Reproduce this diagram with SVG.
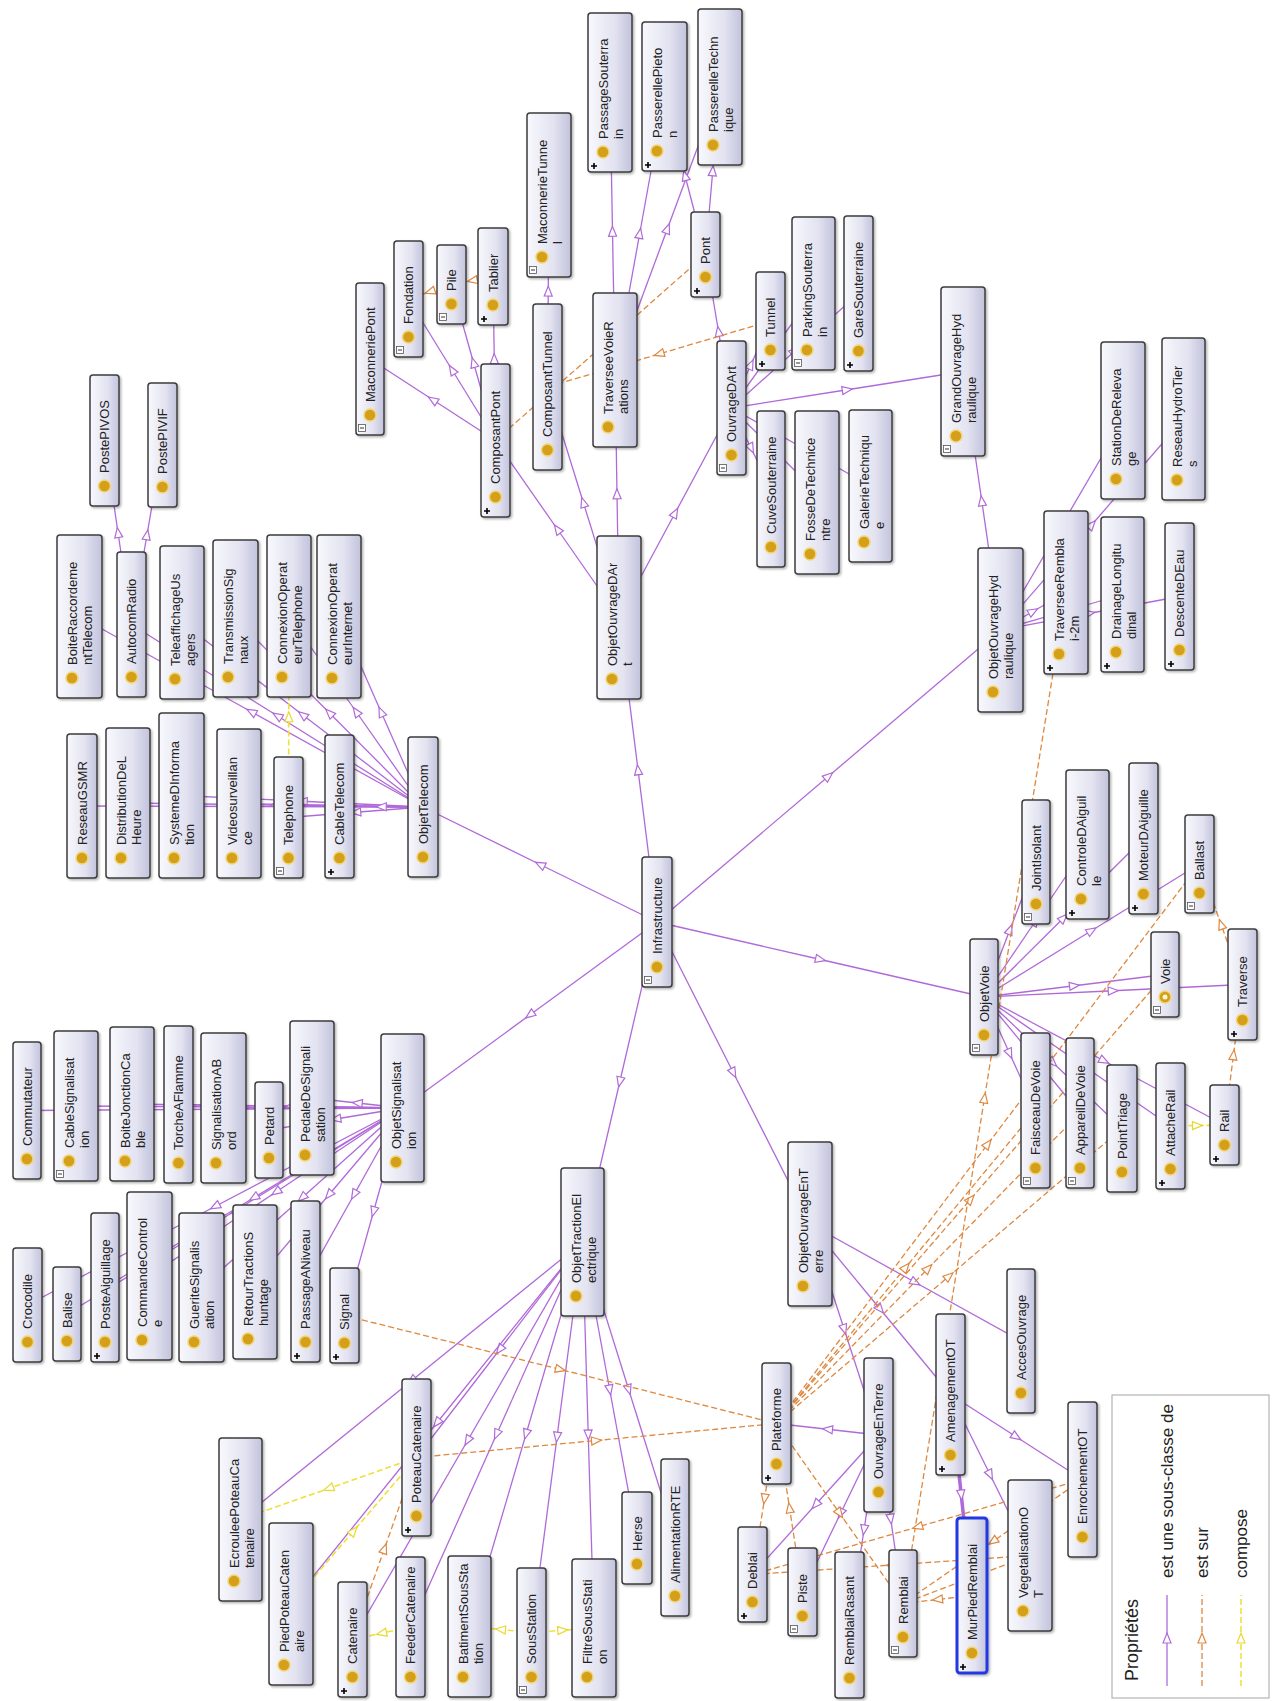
<svg xmlns="http://www.w3.org/2000/svg" xmlns:xlink="http://www.w3.org/1999/xlink" width="1273" height="1701" viewBox="0 0 1273 1701">
<style>
.b{fill:url(#gb);stroke:#3c3c3c;stroke-width:1.5;filter:url(#sh)}
.sel{stroke:#2238e0;stroke-width:3}
.c{fill:#d4a019;stroke:#f2d57a;stroke-width:1.5}
.t{font-family:"Liberation Sans",Arial,sans-serif;font-size:13px;fill:#222}
.s{fill:none;stroke:#b06ad8;stroke-width:1.3;marker-mid:url(#ms)}
.o{fill:none;stroke:#de8840;stroke-width:1.3;stroke-dasharray:6 3;marker-mid:url(#mo)}
.y{fill:none;stroke:#f0e03a;stroke-width:1.6;stroke-dasharray:6 3;marker-mid:url(#my)}
.lg{font-family:"Liberation Sans",Arial,sans-serif;font-size:17px;fill:#222}
</style>
<defs>
<linearGradient id="gb" x1="0" y1="0" x2="1" y2="0"><stop offset="0" stop-color="#f8f8fd"/><stop offset="0.6" stop-color="#e3e3f1"/><stop offset="1" stop-color="#c2c2dc"/></linearGradient>
<filter id="sh" x="-30%" y="-10%" width="160%" height="120%"><feDropShadow dx="1.5" dy="1.5" stdDeviation="1.2" flood-color="#000" flood-opacity="0.3"/></filter>
<marker id="ms" viewBox="-7 -6 14 12" refX="0" refY="0" markerWidth="14" markerHeight="12" markerUnits="userSpaceOnUse" orient="auto"><path d="M-5,-4L5,0L-5,4Z" fill="#fff" stroke="#b06ad8" stroke-width="1.2"/></marker>
<marker id="mo" viewBox="-7 -6 14 12" refX="0" refY="0" markerWidth="14" markerHeight="12" markerUnits="userSpaceOnUse" orient="auto"><path d="M-5,-4L5,0L-5,4Z" fill="#fff" stroke="#de8840" stroke-width="1.2"/></marker>
<marker id="my" viewBox="-7 -6 14 12" refX="0" refY="0" markerWidth="14" markerHeight="12" markerUnits="userSpaceOnUse" orient="auto"><path d="M-5,-4L5,0L-5,4Z" fill="#fff" stroke="#e8d830" stroke-width="1.2"/></marker>
<g id="ip"><path d="M3,-6h6M6,-9v6" stroke="#000" stroke-width="1.6"/></g>
<g id="im"><rect x="2.5" y="-10.5" width="7" height="7" fill="#fff" stroke="#555" stroke-width="0.8"/><path d="M4,-7h4" stroke="#333" stroke-width="1"/></g>
</defs>
<rect width="1273" height="1701" fill="#fff"/>
<g id="connectors">
<path class="s" d="M657,922L540,864.5L423,807"/>
<path class="s" d="M657,922L529.75,1015L402.5,1108"/>
<path class="s" d="M657,922L619.75,1082L582.5,1242"/>
<path class="s" d="M657,922L733.5,1073L810,1224"/>
<path class="s" d="M657,922L820.5,959.5L984,997"/>
<path class="s" d="M657,922L828.75,776L1000.5,630"/>
<path class="s" d="M657,922L638,769.75L619,617.5"/>
<path class="s" d="M423,807L252.5,806.5L82,806"/>
<path class="s" d="M423,807L275.5,805L128,803"/>
<path class="s" d="M423,807L302.25,801.25L181.5,795.5"/>
<path class="s" d="M423,807L331,805.25L239,803.5"/>
<path class="s" d="M423,807L355.75,812.25L288.5,817.5"/>
<path class="s" d="M423,807L381.25,806.75L339.5,806.5"/>
<path class="s" d="M423,807L251.25,711.75L79.5,616.5"/>
<path class="s" d="M423,807L277.25,715.75L131.5,624.5"/>
<path class="s" d="M423,807L302.5,714.75L182,622.5"/>
<path class="s" d="M423,807L329.25,712.75L235.5,618.5"/>
<path class="s" d="M423,807L356,711.5L289,616"/>
<path class="s" d="M423,807L381,711.75L339,616.5"/>
<path class="s" d="M131.5,624.5L118,532.5L104.5,440.5"/>
<path class="s" d="M131.5,624.5L147,534.75L162.5,445"/>
<path class="s" d="M402.5,1108L214.75,1109.25L27,1110.5"/>
<path class="s" d="M402.5,1108L239.25,1107L76,1106"/>
<path class="s" d="M402.5,1108L267.25,1106L132,1104"/>
<path class="s" d="M402.5,1108L290.5,1106.25L178.5,1104.5"/>
<path class="s" d="M402.5,1108L313,1108L223.5,1108"/>
<path class="s" d="M402.5,1108L335.75,1119L269,1130"/>
<path class="s" d="M402.5,1108L357.25,1103L312,1098"/>
<path class="s" d="M402.5,1108L215,1206.5L27.5,1305"/>
<path class="s" d="M402.5,1108L234.75,1211L67,1314"/>
<path class="s" d="M402.5,1108L253.75,1197.75L105,1287.5"/>
<path class="s" d="M402.5,1108L276,1192L149.5,1276"/>
<path class="s" d="M402.5,1108L302,1197.75L201.5,1287.5"/>
<path class="s" d="M402.5,1108L328.75,1195L255,1282"/>
<path class="s" d="M402.5,1108L354,1194.75L305.5,1281.5"/>
<path class="s" d="M402.5,1108L373.5,1211.75L344.5,1315.5"/>
<path class="s" d="M582.5,1242L499.5,1349.75L416.5,1457.5"/>
<path class="s" d="M582.5,1242L411.5,1380.75L240.5,1519.5"/>
<path class="s" d="M582.5,1242L436.75,1423L291,1604"/>
<path class="s" d="M582.5,1242L467.5,1440.75L352.5,1639.5"/>
<path class="s" d="M582.5,1242L496.5,1434.5L410.5,1627"/>
<path class="s" d="M582.5,1242L526,1434.25L469.5,1626.5"/>
<path class="s" d="M582.5,1242L557,1437.25L531.5,1632.5"/>
<path class="s" d="M582.5,1242L588.25,1435L594,1628"/>
<path class="s" d="M582.5,1242L609.75,1390L637,1538"/>
<path class="s" d="M582.5,1242L628.75,1389.75L675,1537.5"/>
<path class="s" d="M810,1224L844.25,1329.5L878.5,1435"/>
<path class="s" d="M810,1224L880.25,1309.25L950.5,1394.5"/>
<path class="s" d="M810,1224L915.5,1282.5L1021,1341"/>
<path class="s" d="M878.5,1435L827.5,1429.25L776.5,1423.5"/>
<path class="s" d="M878.5,1435L815.5,1504.75L752.5,1574.5"/>
<path class="s" d="M878.5,1435L840.5,1513.5L802.5,1592"/>
<path class="s" d="M878.5,1435L890.75,1519.25L903,1603.5"/>
<path class="s" d="M878.5,1435L864,1530L849.5,1625"/>
<path class="s" d="M950.5,1394.5L961.25,1495L972,1595.5" style="stroke-width:3.5"/>
<path class="s" d="M950.5,1394.5L990.25,1475L1030,1555.5"/>
<path class="s" d="M950.5,1394.5L1016.5,1437L1082.5,1479.5"/>
<path class="s" d="M984,997L1010,929.5L1036,862"/>
<path class="s" d="M984,997L1035.75,920.75L1087.5,844.5"/>
<path class="s" d="M984,997L1063.75,917.75L1143.5,838.5"/>
<path class="s" d="M984,997L1091.75,930.5L1199.5,864"/>
<path class="s" d="M984,997L1074.5,985.75L1165,974.5"/>
<path class="s" d="M984,997L1113.25,990.75L1242.5,984.5"/>
<path class="s" d="M984,997L1009.75,1053.75L1035.5,1110.5"/>
<path class="s" d="M984,997L1032,1055L1080,1113"/>
<path class="s" d="M984,997L1053,1062.75L1122,1128.5"/>
<path class="s" d="M984,997L1077.25,1061.5L1170.5,1126"/>
<path class="s" d="M984,997L1104.25,1061L1224.5,1125"/>
<path class="s" d="M1000.5,630L981.75,500.75L963,371.5"/>
<path class="s" d="M1000.5,630L1033.25,611.25L1066,592.5"/>
<path class="s" d="M1000.5,630L1061.75,525.25L1123,420.5"/>
<path class="s" d="M1000.5,630L1092,524.5L1183.5,419"/>
<path class="s" d="M1000.5,630L1061.5,612.25L1122.5,594.5"/>
<path class="s" d="M1000.5,630L1090,613.25L1179.5,596.5"/>
<path class="s" d="M619,617.5L557.25,529L495.5,440.5"/>
<path class="s" d="M619,617.5L583.25,502.25L547.5,387"/>
<path class="s" d="M619,617.5L617,493.75L615,370"/>
<path class="s" d="M619,617.5L675.25,512.75L731.5,408"/>
<path class="s" d="M495.5,440.5L432.75,399.75L370,359"/>
<path class="s" d="M495.5,440.5L452,369.75L408.5,299"/>
<path class="s" d="M495.5,440.5L473.5,362.5L451.5,284.5"/>
<path class="s" d="M495.5,440.5L494.25,358.5L493,276.5"/>
<path class="s" d="M547.5,387L548.25,291L549,195"/>
<path class="s" d="M615,370L612.5,231.25L610,92.5"/>
<path class="s" d="M615,370L639.75,233.25L664.5,96.5"/>
<path class="s" d="M615,370L667.5,228.5L720,87"/>
<path class="s" d="M705.5,254.5L685,175.5L664.5,96.5"/>
<path class="s" d="M705.5,254.5L712.75,170.75L720,87"/>
<path class="s" d="M731.5,408L718.5,331.25L705.5,254.5"/>
<path class="s" d="M731.5,408L751,364.5L770.5,321"/>
<path class="s" d="M731.5,408L772.5,350.75L813.5,293.5"/>
<path class="s" d="M731.5,408L795,350.75L858.5,293.5"/>
<path class="s" d="M731.5,408L847.25,389.75L963,371.5"/>
<path class="s" d="M731.5,408L751.25,448.5L771,489"/>
<path class="s" d="M731.5,408L774.25,450.25L817,492.5"/>
<path class="s" d="M731.5,408L801,447L870.5,486"/>
<path class="o" d="M1242.5,984.5L1221,924.25L1199.5,864"/>
<path class="o" d="M1224.5,1125L1233.5,1054.75L1242.5,984.5"/>
<path class="o" d="M352.5,1639.5L384.5,1548.5L416.5,1457.5"/>
<path class="o" d="M344.5,1315.5L560.5,1369.5L776.5,1423.5"/>
<path class="o" d="M416.5,1457.5L596.5,1440.5L776.5,1423.5"/>
<path class="o" d="M776.5,1423.5L764.5,1499L752.5,1574.5"/>
<path class="o" d="M802.5,1592L789.5,1507.75L776.5,1423.5"/>
<path class="o" d="M776.5,1423.5L839.75,1513.5L903,1603.5"/>
<path class="o" d="M776.5,1423.5L906,1267L1035.5,1110.5"/>
<path class="o" d="M776.5,1423.5L928.25,1268.25L1080,1113"/>
<path class="o" d="M776.5,1423.5L949.25,1276L1122,1128.5"/>
<path class="o" d="M776.5,1423.5L970.75,1199L1165,974.5"/>
<path class="o" d="M776.5,1423.5L988,1143.75L1199.5,864"/>
<path class="o" d="M903,1603.5L984.5,1098L1066,592.5"/>
<path class="o" d="M972,1595.5L937.5,1599.5L903,1603.5"/>
<path class="o" d="M1030,1555.5L966.5,1579.5L903,1603.5"/>
<path class="o" d="M1082.5,1479.5L992.75,1541.5L903,1603.5"/>
<path class="o" d="M1082.5,1479.5L917.5,1527L752.5,1574.5"/>
<path class="o" d="M1030,1555.5L891.25,1565L752.5,1574.5"/>
<path class="o" d="M493,276.5L472.25,280.5L451.5,284.5"/>
<path class="o" d="M451.5,284.5L430,291.75L408.5,299"/>
<path class="o" d="M495.5,440.5L600.5,347.5L705.5,254.5"/>
<path class="o" d="M770.5,321L659,354L547.5,387"/>
<path class="y" d="M288.5,817.5L288.75,716.75L289,616"/>
<path class="y" d="M1170.5,1126L1197.5,1125.5L1224.5,1125"/>
<path class="y" d="M416.5,1457.5L328.5,1488.5L240.5,1519.5"/>
<path class="y" d="M291,1604L353.75,1530.75L416.5,1457.5"/>
<path class="y" d="M410.5,1627L381.5,1633.25L352.5,1639.5"/>
<path class="y" d="M531.5,1632.5L500.5,1629.5L469.5,1626.5"/>
<path class="y" d="M531.5,1632.5L562.75,1630.25L594,1628"/>
</g>
<g id="nodes">
<g id="PostePIVOS" transform="translate(90,375)"><rect class="b" width="29" height="131" rx="3"/><circle class="c" cx="14.5" cy="111" r="6"/><text class="t" transform="translate(19,98) rotate(-90)">PostePIVOS</text></g>
<g id="PostePIVIF" transform="translate(148,383)"><rect class="b" width="29" height="124" rx="3"/><circle class="c" cx="14.5" cy="104" r="6"/><text class="t" transform="translate(19,91) rotate(-90)">PostePIVIF</text></g>
<g id="BoiteRaccordementTelecom" transform="translate(57,535)"><rect class="b" width="45" height="163" rx="3"/><circle class="c" cx="15" cy="143" r="6"/><text class="t" transform="translate(20,130) rotate(-90)">BoiteRaccordeme<tspan x="0" dy="15">ntTelecom</tspan></text></g>
<g id="AutocomRadio" transform="translate(117,552)"><rect class="b" width="29" height="145" rx="3"/><circle class="c" cx="14.5" cy="125" r="6"/><text class="t" transform="translate(19,112) rotate(-90)">AutocomRadio</text></g>
<g id="TeleaffichageUsagers" transform="translate(160,546)"><rect class="b" width="44" height="153" rx="3"/><circle class="c" cx="15" cy="133" r="6"/><text class="t" transform="translate(20,120) rotate(-90)">TeleaffichageUs<tspan x="0" dy="15">agers</tspan></text></g>
<g id="TransmissionSignaux" transform="translate(213,540)"><rect class="b" width="45" height="157" rx="3"/><circle class="c" cx="15" cy="137" r="6"/><text class="t" transform="translate(20,124) rotate(-90)">TransmissionSig<tspan x="0" dy="15">naux</tspan></text></g>
<g id="ConnexionOperateurTelephone" transform="translate(267,535)"><rect class="b" width="44" height="162" rx="3"/><circle class="c" cx="15" cy="142" r="6"/><text class="t" transform="translate(20,129) rotate(-90)">ConnexionOperat<tspan x="0" dy="15">eurTelephone</tspan></text></g>
<g id="ConnexionOperateurInternet" transform="translate(317,535)"><rect class="b" width="44" height="163" rx="3"/><circle class="c" cx="15" cy="143" r="6"/><text class="t" transform="translate(20,130) rotate(-90)">ConnexionOperat<tspan x="0" dy="15">eurInternet</tspan></text></g>
<g id="ReseauGSMR" transform="translate(67,734)"><rect class="b" width="30" height="144" rx="3"/><circle class="c" cx="15" cy="124" r="6"/><text class="t" transform="translate(19.5,111) rotate(-90)">ReseauGSMR</text></g>
<g id="DistributionDeLHeure" transform="translate(106,728)"><rect class="b" width="44" height="150" rx="3"/><circle class="c" cx="15" cy="130" r="6"/><text class="t" transform="translate(20,117) rotate(-90)">DistributionDeL<tspan x="0" dy="15">Heure</tspan></text></g>
<g id="SystemeDInformation" transform="translate(159,713)"><rect class="b" width="45" height="165" rx="3"/><circle class="c" cx="15" cy="145" r="6"/><text class="t" transform="translate(20,132) rotate(-90)">SystemeDInforma<tspan x="0" dy="15">tion</tspan></text></g>
<g id="Videosurveillance" transform="translate(217,729)"><rect class="b" width="44" height="149" rx="3"/><circle class="c" cx="15" cy="129" r="6"/><text class="t" transform="translate(20,116) rotate(-90)">Videosurveillan<tspan x="0" dy="15">ce</tspan></text></g>
<g id="Telephone" transform="translate(274,757)"><rect class="b" width="29" height="121" rx="3"/><circle class="c" cx="14.5" cy="101" r="6"/><text class="t" transform="translate(19,88) rotate(-90)">Telephone</text><use href="#im" y="121"/></g>
<g id="CableTelecom" transform="translate(325,735)"><rect class="b" width="29" height="143" rx="3"/><circle class="c" cx="14.5" cy="123" r="6"/><text class="t" transform="translate(19,110) rotate(-90)">CableTelecom</text><use href="#ip" y="143"/></g>
<g id="ObjetTelecom" transform="translate(408,737)"><rect class="b" width="30" height="140" rx="3"/><circle class="c" cx="15" cy="120" r="6"/><text class="t" transform="translate(19.5,107) rotate(-90)">ObjetTelecom</text></g>
<g id="Commutateur" transform="translate(13,1042)"><rect class="b" width="28" height="137" rx="3"/><circle class="c" cx="14" cy="117" r="6"/><text class="t" transform="translate(18.5,104) rotate(-90)">Commutateur</text></g>
<g id="CableSignalisation" transform="translate(54,1031)"><rect class="b" width="44" height="150" rx="3"/><circle class="c" cx="15" cy="130" r="6"/><text class="t" transform="translate(20,117) rotate(-90)">CableSignalisat<tspan x="0" dy="15">ion</tspan></text><use href="#im" y="150"/></g>
<g id="BoiteJonctionCable" transform="translate(110,1027)"><rect class="b" width="44" height="154" rx="3"/><circle class="c" cx="15" cy="134" r="6"/><text class="t" transform="translate(20,121) rotate(-90)">BoiteJonctionCa<tspan x="0" dy="15">ble</tspan></text></g>
<g id="TorcheAFlamme" transform="translate(164,1026)"><rect class="b" width="29" height="157" rx="3"/><circle class="c" cx="14.5" cy="137" r="6"/><text class="t" transform="translate(19,124) rotate(-90)">TorcheAFlamme</text></g>
<g id="SignalisationABord" transform="translate(201,1033)"><rect class="b" width="45" height="150" rx="3"/><circle class="c" cx="15" cy="130" r="6"/><text class="t" transform="translate(20,117) rotate(-90)">SignalisationAB<tspan x="0" dy="15">ord</tspan></text></g>
<g id="Petard" transform="translate(255,1082)"><rect class="b" width="28" height="96" rx="3"/><circle class="c" cx="14" cy="76" r="6"/><text class="t" transform="translate(18.5,63) rotate(-90)">Petard</text></g>
<g id="PedaleDeSignalisation" transform="translate(290,1021)"><rect class="b" width="44" height="154" rx="3"/><circle class="c" cx="15" cy="134" r="6"/><text class="t" transform="translate(20,121) rotate(-90)">PedaleDeSignali<tspan x="0" dy="15">sation</tspan></text></g>
<g id="ObjetSignalisation" transform="translate(381,1034)"><rect class="b" width="43" height="148" rx="3"/><circle class="c" cx="15" cy="128" r="6"/><text class="t" transform="translate(20,115) rotate(-90)">ObjetSignalisat<tspan x="0" dy="15">ion</tspan></text></g>
<g id="Crocodile" transform="translate(13,1248)"><rect class="b" width="29" height="114" rx="3"/><circle class="c" cx="14.5" cy="94" r="6"/><text class="t" transform="translate(19,81) rotate(-90)">Crocodile</text></g>
<g id="Balise" transform="translate(53,1267)"><rect class="b" width="28" height="94" rx="3"/><circle class="c" cx="14" cy="74" r="6"/><text class="t" transform="translate(18.5,61) rotate(-90)">Balise</text></g>
<g id="PosteAiguillage" transform="translate(91,1213)"><rect class="b" width="28" height="149" rx="3"/><circle class="c" cx="14" cy="129" r="6"/><text class="t" transform="translate(18.5,116) rotate(-90)">PosteAiguillage</text><use href="#ip" y="149"/></g>
<g id="CommandeControle" transform="translate(127,1192)"><rect class="b" width="45" height="168" rx="3"/><circle class="c" cx="15" cy="148" r="6"/><text class="t" transform="translate(20,135) rotate(-90)">CommandeControl<tspan x="0" dy="15">e</tspan></text></g>
<g id="GueriteSignalisation" transform="translate(179,1213)"><rect class="b" width="45" height="149" rx="3"/><circle class="c" cx="15" cy="129" r="6"/><text class="t" transform="translate(20,116) rotate(-90)">GueriteSignalis<tspan x="0" dy="15">ation</tspan></text></g>
<g id="RetourTractionShuntage" transform="translate(233,1205)"><rect class="b" width="44" height="154" rx="3"/><circle class="c" cx="15" cy="134" r="6"/><text class="t" transform="translate(20,121) rotate(-90)">RetourTractionS<tspan x="0" dy="15">huntage</tspan></text></g>
<g id="PassageANiveau" transform="translate(291,1201)"><rect class="b" width="29" height="161" rx="3"/><circle class="c" cx="14.5" cy="141" r="6"/><text class="t" transform="translate(19,128) rotate(-90)">PassageANiveau</text><use href="#ip" y="161"/></g>
<g id="Signal" transform="translate(330,1268)"><rect class="b" width="29" height="95" rx="3"/><circle class="c" cx="14.5" cy="75" r="6"/><text class="t" transform="translate(19,62) rotate(-90)">Signal</text><use href="#ip" y="95"/></g>
<g id="ObjetTractionElectrique" transform="translate(561,1168)"><rect class="b" width="43" height="148" rx="3"/><circle class="c" cx="15" cy="128" r="6"/><text class="t" transform="translate(20,115) rotate(-90)">ObjetTractionEl<tspan x="0" dy="15">ectrique</tspan></text></g>
<g id="PoteauCatenaire" transform="translate(402,1379)"><rect class="b" width="29" height="157" rx="3"/><circle class="c" cx="14.5" cy="137" r="6"/><text class="t" transform="translate(19,124) rotate(-90)">PoteauCatenaire</text><use href="#ip" y="157"/></g>
<g id="EcrouleePoteauCatenaire" transform="translate(219,1438)"><rect class="b" width="43" height="163" rx="3"/><circle class="c" cx="15" cy="143" r="6"/><text class="t" transform="translate(20,130) rotate(-90)">EcrouleePoteauCa<tspan x="0" dy="15">tenaire</tspan></text></g>
<g id="PiedPoteauCatenaire" transform="translate(269,1523)"><rect class="b" width="44" height="162" rx="3"/><circle class="c" cx="15" cy="142" r="6"/><text class="t" transform="translate(20,129) rotate(-90)">PiedPoteauCaten<tspan x="0" dy="15">aire</tspan></text></g>
<g id="Catenaire" transform="translate(338,1582)"><rect class="b" width="29" height="115" rx="3"/><circle class="c" cx="14.5" cy="95" r="6"/><text class="t" transform="translate(19,82) rotate(-90)">Catenaire</text><use href="#ip" y="115"/></g>
<g id="FeederCatenaire" transform="translate(396,1557)"><rect class="b" width="29" height="140" rx="3"/><circle class="c" cx="14.5" cy="120" r="6"/><text class="t" transform="translate(19,107) rotate(-90)">FeederCatenaire</text></g>
<g id="BatimentSousStation" transform="translate(448,1556)"><rect class="b" width="43" height="141" rx="3"/><circle class="c" cx="15" cy="121" r="6"/><text class="t" transform="translate(20,108) rotate(-90)">BatimentSousSta<tspan x="0" dy="15">tion</tspan></text></g>
<g id="SousStation" transform="translate(517,1568)"><rect class="b" width="29" height="129" rx="3"/><circle class="c" cx="14.5" cy="109" r="6"/><text class="t" transform="translate(19,96) rotate(-90)">SousStation</text><use href="#im" y="129"/></g>
<g id="FiltreSousStation" transform="translate(572,1559)"><rect class="b" width="44" height="138" rx="3"/><circle class="c" cx="15" cy="118" r="6"/><text class="t" transform="translate(20,105) rotate(-90)">FiltreSousStati<tspan x="0" dy="15">on</tspan></text></g>
<g id="Herse" transform="translate(622,1492)"><rect class="b" width="30" height="92" rx="3"/><circle class="c" cx="15" cy="72" r="6"/><text class="t" transform="translate(19.5,59) rotate(-90)">Herse</text></g>
<g id="AlimentationRTE" transform="translate(661,1459)"><rect class="b" width="28" height="157" rx="3"/><circle class="c" cx="14" cy="137" r="6"/><text class="t" transform="translate(18.5,124) rotate(-90)">AlimentationRTE</text></g>
<g id="ObjetOuvrageEnTerre" transform="translate(788,1142)"><rect class="b" width="44" height="164" rx="3"/><circle class="c" cx="15" cy="144" r="6"/><text class="t" transform="translate(20,131) rotate(-90)">ObjetOuvrageEnT<tspan x="0" dy="15">erre</tspan></text></g>
<g id="Plateforme" transform="translate(762,1363)"><rect class="b" width="29" height="121" rx="3"/><circle class="c" cx="14.5" cy="101" r="6"/><text class="t" transform="translate(19,88) rotate(-90)">Plateforme</text><use href="#ip" y="121"/></g>
<g id="OuvrageEnTerre" transform="translate(864,1358)"><rect class="b" width="29" height="154" rx="3"/><circle class="c" cx="14.5" cy="134" r="6"/><text class="t" transform="translate(19,121) rotate(-90)">OuvrageEnTerre</text></g>
<g id="AmenagementOT" transform="translate(936,1314)"><rect class="b" width="29" height="161" rx="3"/><circle class="c" cx="14.5" cy="141" r="6"/><text class="t" transform="translate(19,128) rotate(-90)">AmenagementOT</text><use href="#ip" y="161"/></g>
<g id="AccesOuvrage" transform="translate(1007,1269)"><rect class="b" width="28" height="144" rx="3"/><circle class="c" cx="14" cy="124" r="6"/><text class="t" transform="translate(18.5,111) rotate(-90)">AccesOuvrage</text></g>
<g id="EnrochementOT" transform="translate(1068,1402)"><rect class="b" width="29" height="155" rx="3"/><circle class="c" cx="14.5" cy="135" r="6"/><text class="t" transform="translate(19,122) rotate(-90)">EnrochementOT</text></g>
<g id="VegetalisationOT" transform="translate(1008,1480)"><rect class="b" width="44" height="151" rx="3"/><circle class="c" cx="15" cy="131" r="6"/><text class="t" transform="translate(20,118) rotate(-90)">VegetalisationO<tspan x="0" dy="15">T</tspan></text></g>
<g id="MurPiedRemblai" transform="translate(957,1518)"><rect class="b sel" width="30" height="155" rx="3"/><circle class="c" cx="15" cy="135" r="6"/><text class="t" transform="translate(19.5,122) rotate(-90)">MurPiedRemblai</text><use href="#ip" y="155"/></g>
<g id="Remblai" transform="translate(889,1550)"><rect class="b" width="28" height="107" rx="3"/><circle class="c" cx="14" cy="87" r="6"/><text class="t" transform="translate(18.5,74) rotate(-90)">Remblai</text><use href="#im" y="107"/></g>
<g id="RemblaiRasant" transform="translate(835,1552)"><rect class="b" width="29" height="146" rx="3"/><circle class="c" cx="14.5" cy="126" r="6"/><text class="t" transform="translate(19,113) rotate(-90)">RemblaiRasant</text></g>
<g id="Deblai" transform="translate(738,1527)"><rect class="b" width="29" height="95" rx="3"/><circle class="c" cx="14.5" cy="75" r="6"/><text class="t" transform="translate(19,62) rotate(-90)">Deblai</text><use href="#ip" y="95"/></g>
<g id="Piste" transform="translate(788,1548)"><rect class="b" width="29" height="88" rx="3"/><circle class="c" cx="14.5" cy="68" r="6"/><text class="t" transform="translate(19,55) rotate(-90)">Piste</text><use href="#im" y="88"/></g>
<g id="ObjetVoie" transform="translate(970,939)"><rect class="b" width="28" height="116" rx="3"/><circle class="c" cx="14" cy="96" r="6"/><text class="t" transform="translate(18.5,83) rotate(-90)">ObjetVoie</text><use href="#im" y="116"/></g>
<g id="JointIsolant" transform="translate(1022,800)"><rect class="b" width="28" height="124" rx="3"/><circle class="c" cx="14" cy="104" r="6"/><text class="t" transform="translate(18.5,91) rotate(-90)">JointIsolant</text><use href="#im" y="124"/></g>
<g id="ControleDAiguille" transform="translate(1066,770)"><rect class="b" width="43" height="149" rx="3"/><circle class="c" cx="15" cy="129" r="6"/><text class="t" transform="translate(20,116) rotate(-90)">ControleDAiguil<tspan x="0" dy="15">le</tspan></text><use href="#ip" y="149"/></g>
<g id="MoteurDAiguille" transform="translate(1129,763)"><rect class="b" width="29" height="151" rx="3"/><circle class="c" cx="14.5" cy="131" r="6"/><text class="t" transform="translate(19,118) rotate(-90)">MoteurDAiguille</text><use href="#ip" y="151"/></g>
<g id="Ballast" transform="translate(1185,815)"><rect class="b" width="29" height="98" rx="3"/><circle class="c" cx="14.5" cy="78" r="6"/><text class="t" transform="translate(19,65) rotate(-90)">Ballast</text><use href="#im" y="98"/></g>
<g id="Voie" transform="translate(1151,932)"><rect class="b" width="28" height="85" rx="3"/><circle class="c" cx="14" cy="65" r="6"/><circle cx="14" cy="65" r="2.5" fill="#fff6d0"/><text class="t" transform="translate(18.5,52) rotate(-90)">Voie</text><use href="#im" y="85"/></g>
<g id="Traverse" transform="translate(1228,929)"><rect class="b" width="29" height="111" rx="3"/><circle class="c" cx="14.5" cy="91" r="6"/><text class="t" transform="translate(19,78) rotate(-90)">Traverse</text><use href="#ip" y="111"/></g>
<g id="FaisceauDeVoie" transform="translate(1021,1033)"><rect class="b" width="29" height="155" rx="3"/><circle class="c" cx="14.5" cy="135" r="6"/><text class="t" transform="translate(19,122) rotate(-90)">FaisceauDeVoie</text><use href="#im" y="155"/></g>
<g id="AppareilDeVoie" transform="translate(1066,1038)"><rect class="b" width="28" height="150" rx="3"/><circle class="c" cx="14" cy="130" r="6"/><text class="t" transform="translate(18.5,117) rotate(-90)">AppareilDeVoie</text><use href="#im" y="150"/></g>
<g id="PointTriage" transform="translate(1107,1065)"><rect class="b" width="30" height="127" rx="3"/><circle class="c" cx="15" cy="107" r="6"/><text class="t" transform="translate(19.5,94) rotate(-90)">PointTriage</text></g>
<g id="AttacheRail" transform="translate(1156,1063)"><rect class="b" width="29" height="126" rx="3"/><circle class="c" cx="14.5" cy="106" r="6"/><text class="t" transform="translate(19,93) rotate(-90)">AttacheRail</text><use href="#ip" y="126"/></g>
<g id="Rail" transform="translate(1210,1085)"><rect class="b" width="29" height="80" rx="3"/><circle class="c" cx="14.5" cy="60" r="6"/><text class="t" transform="translate(19,47) rotate(-90)">Rail</text><use href="#ip" y="80"/></g>
<g id="ObjetOuvrageHydraulique" transform="translate(978,548)"><rect class="b" width="45" height="164" rx="3"/><circle class="c" cx="15" cy="144" r="6"/><text class="t" transform="translate(20,131) rotate(-90)">ObjetOuvrageHyd<tspan x="0" dy="15">raulique</tspan></text></g>
<g id="GrandOuvrageHydraulique" transform="translate(941,287)"><rect class="b" width="44" height="169" rx="3"/><circle class="c" cx="15" cy="149" r="6"/><text class="t" transform="translate(20,136) rotate(-90)">GrandOuvrageHyd<tspan x="0" dy="15">raulique</tspan></text><use href="#im" y="169"/></g>
<g id="TraverseeRemblai-2m" transform="translate(1044,511)"><rect class="b" width="44" height="163" rx="3"/><circle class="c" cx="15" cy="143" r="6"/><text class="t" transform="translate(20,130) rotate(-90)">TraverseeRembla<tspan x="0" dy="15">i-2m</tspan></text><use href="#ip" y="163"/></g>
<g id="StationDeRelevage" transform="translate(1101,342)"><rect class="b" width="44" height="157" rx="3"/><circle class="c" cx="15" cy="137" r="6"/><text class="t" transform="translate(20,124) rotate(-90)">StationDeReleva<tspan x="0" dy="15">ge</tspan></text></g>
<g id="ReseauHydroTiers" transform="translate(1162,338)"><rect class="b" width="43" height="162" rx="3"/><circle class="c" cx="15" cy="142" r="6"/><text class="t" transform="translate(20,129) rotate(-90)">ReseauHydroTier<tspan x="0" dy="15">s</tspan></text></g>
<g id="DrainageLongitudinal" transform="translate(1101,517)"><rect class="b" width="43" height="155" rx="3"/><circle class="c" cx="15" cy="135" r="6"/><text class="t" transform="translate(20,122) rotate(-90)">DrainageLongitu<tspan x="0" dy="15">dinal</tspan></text><use href="#ip" y="155"/></g>
<g id="DescenteDEau" transform="translate(1165,523)"><rect class="b" width="29" height="147" rx="3"/><circle class="c" cx="14.5" cy="127" r="6"/><text class="t" transform="translate(19,114) rotate(-90)">DescenteDEau</text><use href="#ip" y="147"/></g>
<g id="ObjetOuvrageDArt" transform="translate(597,536)"><rect class="b" width="44" height="163" rx="3"/><circle class="c" cx="15" cy="143" r="6"/><text class="t" transform="translate(20,130) rotate(-90)">ObjetOuvrageDAr<tspan x="0" dy="15">t</tspan></text></g>
<g id="ComposantPont" transform="translate(481,364)"><rect class="b" width="29" height="153" rx="3"/><circle class="c" cx="14.5" cy="133" r="6"/><text class="t" transform="translate(19,120) rotate(-90)">ComposantPont</text><use href="#ip" y="153"/></g>
<g id="ComposantTunnel" transform="translate(533,304)"><rect class="b" width="29" height="166" rx="3"/><circle class="c" cx="14.5" cy="146" r="6"/><text class="t" transform="translate(19,133) rotate(-90)">ComposantTunnel</text></g>
<g id="TraverseeVoieRations" transform="translate(593,293)"><rect class="b" width="44" height="154" rx="3"/><circle class="c" cx="15" cy="134" r="6"/><text class="t" transform="translate(20,121) rotate(-90)">TraverseeVoieR<tspan x="0" dy="15">ations</tspan></text></g>
<g id="OuvrageDArt" transform="translate(717,341)"><rect class="b" width="29" height="134" rx="3"/><circle class="c" cx="14.5" cy="114" r="6"/><text class="t" transform="translate(19,101) rotate(-90)">OuvrageDArt</text><use href="#im" y="134"/></g>
<g id="MaconneriePont" transform="translate(356,283)"><rect class="b" width="28" height="152" rx="3"/><circle class="c" cx="14" cy="132" r="6"/><text class="t" transform="translate(18.5,119) rotate(-90)">MaconneriePont</text><use href="#im" y="152"/></g>
<g id="Fondation" transform="translate(394,241)"><rect class="b" width="29" height="116" rx="3"/><circle class="c" cx="14.5" cy="96" r="6"/><text class="t" transform="translate(19,83) rotate(-90)">Fondation</text><use href="#im" y="116"/></g>
<g id="Pile" transform="translate(437,245)"><rect class="b" width="29" height="79" rx="3"/><circle class="c" cx="14.5" cy="59" r="6"/><text class="t" transform="translate(19,46) rotate(-90)">Pile</text><use href="#im" y="79"/></g>
<g id="Tablier" transform="translate(478,228)"><rect class="b" width="30" height="97" rx="3"/><circle class="c" cx="15" cy="77" r="6"/><text class="t" transform="translate(19.5,64) rotate(-90)">Tablier</text><use href="#ip" y="97"/></g>
<g id="MaconnerieTunnel" transform="translate(527,113)"><rect class="b" width="44" height="164" rx="3"/><circle class="c" cx="15" cy="144" r="6"/><text class="t" transform="translate(20,131) rotate(-90)">MaconnerieTunne<tspan x="0" dy="15">l</tspan></text><use href="#im" y="164"/></g>
<g id="PassageSouterrain" transform="translate(588,13)"><rect class="b" width="44" height="159" rx="3"/><circle class="c" cx="15" cy="139" r="6"/><text class="t" transform="translate(20,126) rotate(-90)">PassageSouterra<tspan x="0" dy="15">in</tspan></text><use href="#ip" y="159"/></g>
<g id="PasserellePieton" transform="translate(642,22)"><rect class="b" width="45" height="149" rx="3"/><circle class="c" cx="15" cy="129" r="6"/><text class="t" transform="translate(20,116) rotate(-90)">PasserellePieto<tspan x="0" dy="15">n</tspan></text><use href="#ip" y="149"/></g>
<g id="PasserelleTechnique" transform="translate(698,9)"><rect class="b" width="44" height="156" rx="3"/><circle class="c" cx="15" cy="136" r="6"/><text class="t" transform="translate(20,123) rotate(-90)">PasserelleTechn<tspan x="0" dy="15">ique</tspan></text></g>
<g id="Pont" transform="translate(691,212)"><rect class="b" width="29" height="85" rx="3"/><circle class="c" cx="14.5" cy="65" r="6"/><text class="t" transform="translate(19,52) rotate(-90)">Pont</text><use href="#ip" y="85"/></g>
<g id="Tunnel" transform="translate(756,272)"><rect class="b" width="29" height="98" rx="3"/><circle class="c" cx="14.5" cy="78" r="6"/><text class="t" transform="translate(19,65) rotate(-90)">Tunnel</text><use href="#ip" y="98"/></g>
<g id="ParkingSouterrain" transform="translate(792,217)"><rect class="b" width="43" height="153" rx="3"/><circle class="c" cx="15" cy="133" r="6"/><text class="t" transform="translate(20,120) rotate(-90)">ParkingSouterra<tspan x="0" dy="15">in</tspan></text><use href="#im" y="153"/></g>
<g id="GareSouterraine" transform="translate(844,216)"><rect class="b" width="29" height="155" rx="3"/><circle class="c" cx="14.5" cy="135" r="6"/><text class="t" transform="translate(19,122) rotate(-90)">GareSouterraine</text><use href="#ip" y="155"/></g>
<g id="CuveSouterraine" transform="translate(757,411)"><rect class="b" width="28" height="156" rx="3"/><circle class="c" cx="14" cy="136" r="6"/><text class="t" transform="translate(18.5,123) rotate(-90)">CuveSouterraine</text></g>
<g id="FosseDeTechnicentre" transform="translate(795,411)"><rect class="b" width="44" height="163" rx="3"/><circle class="c" cx="15" cy="143" r="6"/><text class="t" transform="translate(20,130) rotate(-90)">FosseDeTechnice<tspan x="0" dy="15">ntre</tspan></text></g>
<g id="GalerieTechnique" transform="translate(849,410)"><rect class="b" width="43" height="152" rx="3"/><circle class="c" cx="15" cy="132" r="6"/><text class="t" transform="translate(20,119) rotate(-90)">GalerieTechniqu<tspan x="0" dy="15">e</tspan></text></g>
<g id="Infrastructure" transform="translate(642,857)"><rect class="b" width="30" height="130" rx="3"/><circle class="c" cx="15" cy="110" r="6"/><text class="t" transform="translate(19.5,97) rotate(-90)">Infrastructure</text><use href="#im" y="130"/></g>
</g>
<g id="legend">
<rect x="1112" y="1395" width="157" height="303" fill="#fff" stroke="#b4b4b4" stroke-width="1.2"/>
<text class="lg" style="font-size:18px" transform="translate(1138,1681) rotate(-90)">Propriétés</text>
<path class="s" d="M1167,1686L1167,1638L1167,1595"/>
<path class="o" d="M1202,1686L1202,1638L1202,1595"/>
<path class="y" d="M1241,1686L1241,1638L1241,1595"/>
<text class="lg" transform="translate(1173,1578) rotate(-90)">est une sous-classe de</text>
<text class="lg" transform="translate(1208,1578) rotate(-90)">est sur</text>
<text class="lg" transform="translate(1247,1578) rotate(-90)">compose</text>
</g>
</svg>
